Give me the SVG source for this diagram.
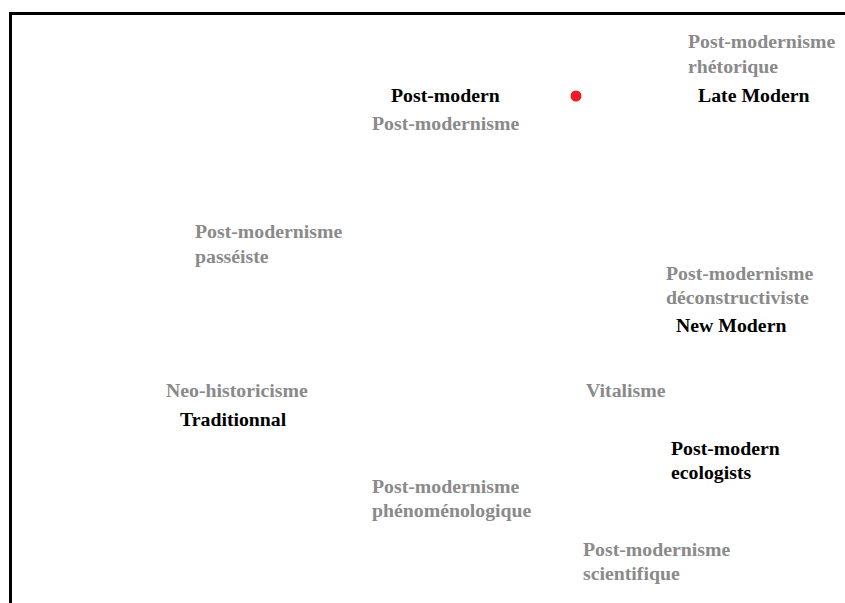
<svg xmlns="http://www.w3.org/2000/svg" width="845" height="603" viewBox="0 0 845 603">
<style>
text{font-family:"Liberation Serif","Times New Roman",serif;font-weight:bold;font-size:19.8px}
.g{fill:#8a8a8a}
.k{fill:#000}
</style>
<rect width="845" height="603" fill="#fff"/>
<g id="frame"><path d="M10.5 603V13.5H845" fill="none" stroke="#000" stroke-width="3"/></g>
<g id="dot"><circle cx="576" cy="96" r="5.5" fill="#ee1c24"/></g>
<g id="n-rhetorique"><text class="g" x="688" y="48">Post-modernisme</text><text class="g" x="688" y="73">rhétorique</text></g>
<g id="n-postmodern"><text class="k" x="391" y="102">Post-modern</text></g>
<g id="n-latemodern"><text class="k" x="698" y="102">Late Modern</text></g>
<g id="n-postmodernisme"><text class="g" x="372" y="130">Post-modernisme</text></g>
<g id="n-passeiste"><text class="g" x="195" y="238">Post-modernisme</text><text class="g" x="195" y="263">passéiste</text></g>
<g id="n-deconstructiviste"><text class="g" x="666" y="280">Post-modernisme</text><text class="g" x="666" y="304">déconstructiviste</text></g>
<g id="n-newmodern"><text class="k" x="676" y="332">New Modern</text></g>
<g id="n-neohistoricisme"><text class="g" x="166" y="397">Neo-historicisme</text></g>
<g id="n-traditionnal"><text class="k" x="180" y="426">Traditionnal</text></g>
<g id="n-vitalisme"><text class="g" x="586" y="397">Vitalisme</text></g>
<g id="n-ecologists"><text class="k" x="671" y="455">Post-modern</text><text class="k" x="671" y="479">ecologists</text></g>
<g id="n-phenomenologique"><text class="g" x="372" y="493">Post-modernisme</text><text class="g" x="372" y="517">phénoménologique</text></g>
<g id="n-scientifique"><text class="g" x="583" y="556">Post-modernisme</text><text class="g" x="583" y="580">scientifique</text></g>
</svg>
